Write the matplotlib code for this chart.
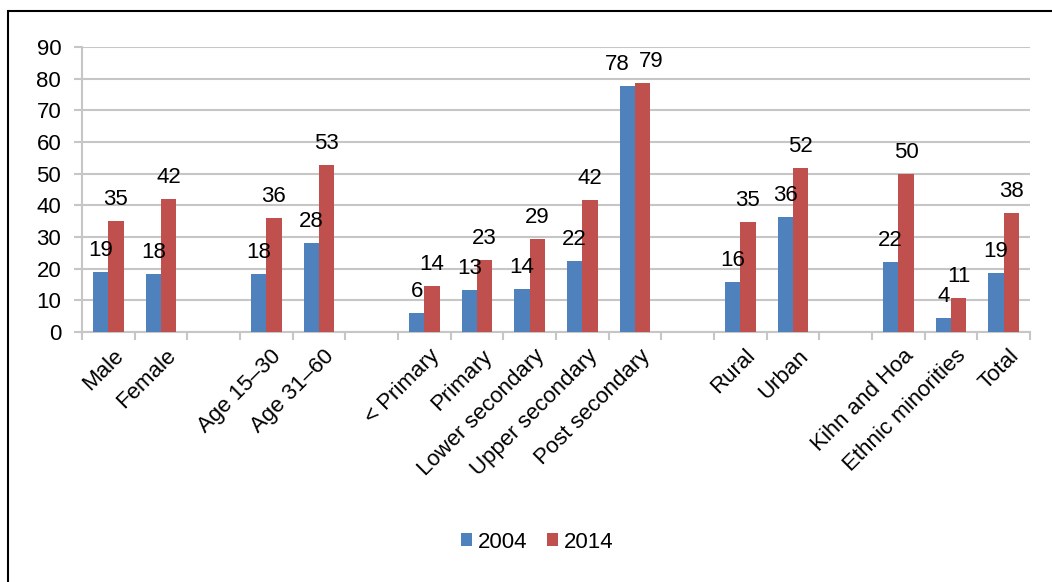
import numpy as np
import matplotlib as mpl
mpl.use("Agg")
import matplotlib.pyplot as plt
from matplotlib.patches import Rectangle
from matplotlib.transforms import ScaledTranslation

mpl.rcParams.update({
    "font.family": ["Liberation Sans", "DejaVu Sans"],
    "font.size": 16,
})

# colors (office 2007 defaults)
color0 = '#4F81BD'
color1 = '#C0504D'
grid_color = '#C6C6C6'

# data, empty strings are spacer slots between groups
categories = ['Male', 'Female', '',
              'Age 15\u201330', 'Age 31\u201360', '',
              '< Primary', 'Primary', 'Lower secondary', 'Upper secondary',
              'Post secondary', '',
              'Rural', 'Urban', '',
              'Kihn and Hoa', 'Ethnic minorities', 'Total']
vals_2004 = [18.9, 18.3, np.nan, 18.3, 28.1, np.nan,
             6.1, 13.3, 13.6, 22.4, 77.8, np.nan,
             15.7, 36.4, np.nan, 22.0, 4.4, 18.6]
vals_2014 = [35.0, 42.0, np.nan, 35.9, 52.8, np.nan,
             14.4, 22.6, 29.3, 41.6, 78.6, np.nan,
             34.8, 51.9, np.nan, 49.9, 10.7, 37.6]
series_names = ['2004', '2014']

#create figure
fig = plt.figure(figsize=(10.52, 5.82), dpi=100)
ax = fig.add_axes([82/1052, 250/582, 948/1052, 285/582])

x = np.arange(len(categories))
w = 0.29
b0 = ax.bar(x - w/2, vals_2004, w, color=color0, label=series_names[0], zorder=3)
b1 = ax.bar(x + w/2, vals_2014, w, color=color1, label=series_names[1], zorder=3)

# data labels; pixel nudges where the two labels would collide
nudge = {(10, 0): -10, (10, 1): 9}
for k, (xs, vs) in enumerate(((x - w/2, vals_2004), (x + w/2, vals_2014))):
    for i, (xi, v) in enumerate(zip(xs, vs)):
        if np.isnan(v):
            continue
        ax.annotate('%.0f' % v, (xi, v), xytext=(nudge.get((i, k), 0), 16),
                    textcoords='offset pixels',
                    ha='center', va='baseline', fontsize=16, zorder=4)

#set axis properties
ax.set_xlim(-0.5, len(categories) - 0.5)
ax.set_ylim(0, 90)
ax.set_yticks(np.arange(0, 91, 10))
ax.yaxis.grid(True, color=grid_color, linewidth=1.5, zorder=0)
ax.set_axisbelow(True)

for s in ('top', 'right'):
    ax.spines[s].set_visible(False)
for s in ('left', 'bottom'):
    ax.spines[s].set_color(grid_color)
    ax.spines[s].set_linewidth(1.5)

ax.tick_params(axis='y', length=6, width=1.5, color=grid_color, pad=9, labelsize=16)
ax.set_xticks(x)
ax.set_xticklabels(categories, rotation=45, ha='right', va='center',
                   rotation_mode='anchor', fontsize=16)
ax.tick_params(axis='x', which='major', length=0, pad=15)
ax.set_xticks(np.arange(-0.5, len(categories)), minor=True)
ax.tick_params(axis='x', which='minor', length=6, width=1.5, color=grid_color)

shift = ScaledTranslation(12/100, 0, fig.dpi_scale_trans)
for lab in ax.get_xticklabels():
    lab.set_transform(lab.get_transform() + shift)

fig.legend(handles=[b0, b1], labels=series_names, loc='center',
           bbox_to_anchor=(537/1052, 40/582), ncol=2, frameon=False,
           handlelength=0.5, handleheight=0.5, handletextpad=0.25,
           columnspacing=0.9, fontsize=16)

# outer frame
fig.patches.append(Rectangle((8/1052, -0.05), 1.1, 0.05 + (582 - 11)/582,
                             transform=fig.transFigure, fill=False,
                             edgecolor='black', linewidth=1.5))

fig.savefig('out.png', dpi=100)
